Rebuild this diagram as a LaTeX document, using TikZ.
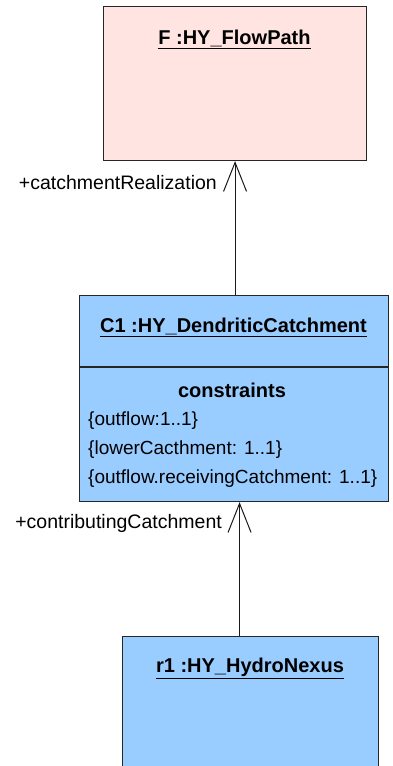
\documentclass[tikz,border=0pt]{standalone}
\usepackage{fontspec}
\setmainfont{Liberation Sans}
\usetikzlibrary{arrows.meta}
\definecolor{pathpink}{HTML}{FFE4E1}
\definecolor{objblue}{HTML}{99CCFF}
\begin{document}
\begin{tikzpicture}[x=1pt,y=-1pt,
        objbox/.style={draw=black!85,line width=1.1pt,inner sep=0pt,anchor=north west},
        objname/.style={font=\bfseries\fontsize{20}{24}\selectfont,inner sep=0pt},
        cons/.style={font=\fontsize{19}{22}\selectfont,inner sep=0pt,anchor=west},
        role/.style={font=\fontsize{19.5}{23}\selectfont,inner sep=0pt,anchor=east},
        assoc/.style={draw=black!90,line width=1pt,-{Straight Barb[length=29pt,width=23pt,line width=1pt]}}]
        \useasboundingbox (0,0) rectangle (392,766);
        % object boxes
        \node[objbox,fill=pathpink,minimum width=263pt,minimum height=154pt] (F) at (103,6) {};
        \node[objbox,fill=objblue,minimum width=309pt,minimum height=206pt] (C1) at (79,295) {};
        \node[objbox,fill=objblue,minimum width=256pt,minimum height=150pt] (r1) at (122,636) {};
        \draw[draw=black!85,line width=1.1pt] (C1.west |- 0,367) -- (C1.east |- 0,367);
        % names
        \node[objname] (Fname) at (234.5,39) {\underline{F :HY\_FlowPath}};
        \node[objname] (C1name) at (233.5,327) {\underline{C1 :HY\_DendriticCatchment}};
        \node[objname] (r1name) at (250,668) {\underline{r1 :HY\_HydroNexus}};
        % constraints
        \node[objname] (constr) at (232,390) {constraints};
        \node[cons] (k1) at (88,421) {\{outflow:1..1\}};
        \node[cons] (k2) at (88,450) {\{lowerCacthment: 1..1\}};
        \node[cons] (k3) at (88,479) {\{outflow.receivingCatchment: 1..1\}};
        % associations
        \draw[assoc] (F.south |- C1.north) -- (F.south);
        \draw[assoc] ([xshift=-11pt]r1.north) -- ([xshift=-11pt]r1.north |- C1.south);
        \node[role] (realize) at (217,183) {+catchmentRealization};
        \node[role] (contrib) at (222,523) {+contributingCatchment};
\end{tikzpicture}
\end{document}
